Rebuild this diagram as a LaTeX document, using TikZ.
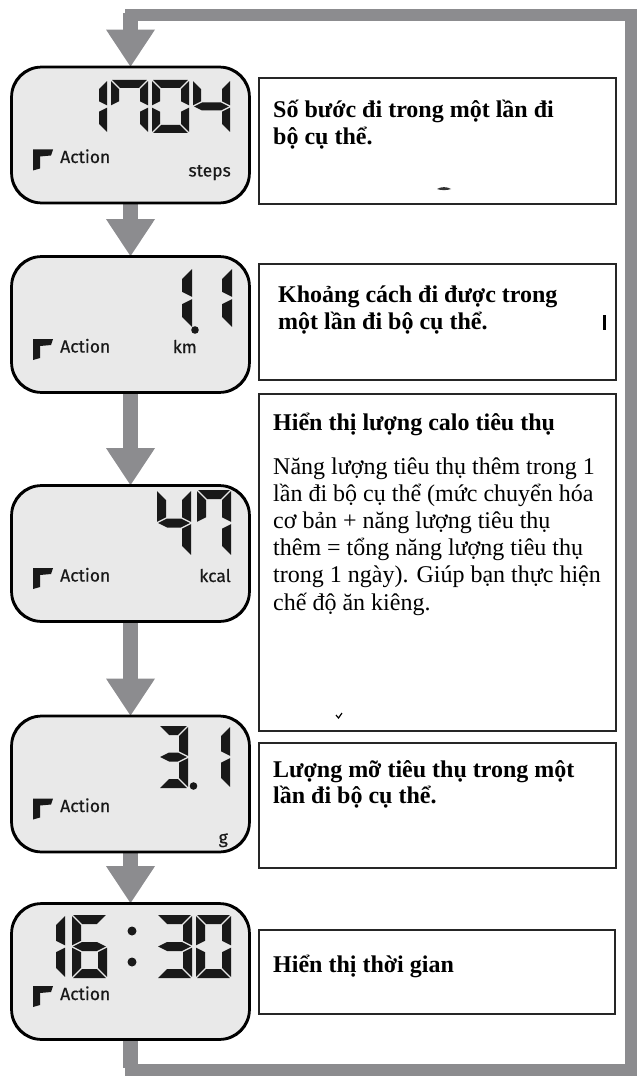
\documentclass[tikz,border=0pt]{standalone}
\usepackage{fontspec}
\setmainfont{Liberation Serif}
\newfontfamily\lcdfont[FakeBold=0.5]{Fira Sans}
\usetikzlibrary{calc}
\definecolor{arrowgray}{RGB}{140,140,143}
\definecolor{lcdfill}{RGB}{233,233,233}
\definecolor{segcol}{RGB}{25,25,25}
\newcommand\sgap{1.2}
\newcommand\segA{\fill[segcol] (\sgap,0) -- (\dW-\sgap,0) -- (\dW-\dT-\sgap,\dT) -- (\dT+\sgap,\dT) -- cycle;}
\newcommand\segD{\fill[segcol] (\sgap,\dH) -- (\dW-\sgap,\dH) -- (\dW-\dT-\sgap,\dH-\dT) -- (\dT+\sgap,\dH-\dT) -- cycle;}
\newcommand\segF{\fill[segcol] (0,\sgap) -- (\dT,\dT+\sgap) -- (\dT,\dH/2-\dT/2-\sgap) -- (0,\dH/2-\sgap) -- cycle;}
\newcommand\segE{\fill[segcol] (0,\dH/2+\sgap) -- (\dT,\dH/2+\dT/2+\sgap) -- (\dT,\dH-\dT-\sgap) -- (0,\dH-\sgap) -- cycle;}
\newcommand\segB{\fill[segcol] (\dW,\sgap) -- (\dW-\dT,\dT+\sgap) -- (\dW-\dT,\dH/2-\dT/2-\sgap) -- (\dW,\dH/2-\sgap) -- cycle;}
\newcommand\segC{\fill[segcol] (\dW,\dH/2+\sgap) -- (\dW-\dT,\dH/2+\dT/2+\sgap) -- (\dW-\dT,\dH-\dT-\sgap) -- (\dW,\dH-\sgap) -- cycle;}
\newcommand\segG{\fill[segcol] (\sgap,\dH/2) -- (\dT+\sgap,\dH/2-\dT/2) -- (\dW-\dT-\sgap,\dH/2-\dT/2) -- (\dW-\sgap,\dH/2) -- (\dW-\dT-\sgap,\dH/2+\dT/2) -- (\dT+\sgap,\dH/2+\dT/2) -- cycle;}
\newcommand\lcddigit[6]{\begin{scope}[shift={(#1,#2)}]\def\dW{#3}\def\dH{#4}\def\dT{#5}\foreach \s in {#6}{\csname seg\s\endcsname}\end{scope}}
\newcommand\actionicon[2]{\fill[segcol] (#1,#2) -- ++(20,0) -- ++(-2,6) -- ++(-11,1) -- ++(0,12) -- ++(-7,2) -- cycle;}
\begin{document}
\begin{tikzpicture}[x=1pt,y=-1pt,
  lcd/.style={draw=black, line width=1.8pt, fill=lcdfill, rounded corners=30pt,
              minimum width=237pt, minimum height=135pt, inner sep=0pt},
  tbox/.style={draw=black!85, line width=1.6pt, fill=white, inner sep=0pt, anchor=north west},
  txt/.style={inner sep=0pt, anchor=base west, font=\fontsize{24}{27}\selectfont},
  btxt/.style={txt, font=\fontsize{24}{27}\selectfont\bfseries},
  lcdlbl/.style={inner sep=0pt, font=\lcdfont\fontsize{17.5}{20}\selectfont, text=segcol},
  shaft/.style={draw=arrowgray, line width=15pt},
  loopbar/.style={draw=arrowgray, line width=12pt, line join=miter},
  headfill/.style={fill=arrowgray}]
\useasboundingbox (0,0) rectangle (637,1078);
\fill[white] (0,0) rectangle (637,1078);

% LCD displays
\node[lcd] (lcd1) at (130.5,135) {};
\node[lcd] (lcd2) at (130.5,324.5) {};
\node[lcd] (lcd3) at (130.5,553.5) {};
\node[lcd] (lcd4) at (130.5,784) {};
\node[lcd] (lcd5) at (130.5,971.5) {};

% loop back
\coordinate (lbl) at (130.5,1070);
\coordinate (lbr) at (631,1070);
\coordinate (ltr) at (631,15);
\coordinate (ltl) at (130.5,15);
\draw[loopbar] (lcd5.south) -- (lbl) -- (lbr) -- (ltr) -- (ltl) -- ($(lcd1.north)+(0,-36)$);
\draw[shaft] ($(ltl)+(0,-2)$) -- ($(lcd1.north)+(0,-36)$);
\draw[shaft] ($(lcd5.south)+(0,1)$) -- ($(lbl)+(0,-2)$);
\fill[headfill] ($(lcd1.north)+(-24.5,-37)$) -- ($(lcd1.north)+(24.5,-37)$) -- (lcd1.north) -- cycle;

% arrows between displays
\draw[shaft] (lcd1.south) -- ($(lcd2.north)+(0,-36)$);
\fill[headfill] ($(lcd2.north)+(-24.5,-37)$) -- ($(lcd2.north)+(24.5,-37)$) -- (lcd2.north) -- cycle;
\draw[shaft] (lcd2.south) -- ($(lcd3.north)+(0,-36)$);
\fill[headfill] ($(lcd3.north)+(-24.5,-37)$) -- ($(lcd3.north)+(24.5,-37)$) -- (lcd3.north) -- cycle;
\draw[shaft] (lcd3.south) -- ($(lcd4.north)+(0,-36)$);
\fill[headfill] ($(lcd4.north)+(-24.5,-37)$) -- ($(lcd4.north)+(24.5,-37)$) -- (lcd4.north) -- cycle;
\draw[shaft] (lcd4.south) -- ($(lcd5.north)+(0,-36)$);
\fill[headfill] ($(lcd5.north)+(-24.5,-37)$) -- ($(lcd5.north)+(24.5,-37)$) -- (lcd5.north) -- cycle;

% redraw LCD borders on top of arrow ends
\foreach \n in {lcd1,lcd2,lcd3,lcd4,lcd5}{
  \draw[black, line width=1.8pt, rounded corners=30pt] (\n.north west) rectangle (\n.south east);}

% LCD 1: 1704 steps
\lcddigit{70}{80}{37}{53}{8}{B,C}
\lcddigit{111}{80}{37}{53}{8}{A,B,C,F}
\lcddigit{152}{80}{37}{53}{8}{A,B,C,D,E,F}
\lcddigit{193}{80}{37}{53}{8}{B,C,F,G}
\actionicon{33}{149.5}
\node[lcdlbl, anchor=base west] (act1) at (60,163) {Action};
\node[lcdlbl, anchor=base east] (unit1) at (231,176.5) {steps};

% LCD 2: 1.1 km
\lcddigit{156}{268}{36}{60}{10}{B,C}
\fill[segcol] (195,330) circle[radius=3.8];
\lcddigit{196}{268}{36}{60}{10}{B,C}
\actionicon{33}{339}
\node[lcdlbl, anchor=base west] (act2) at (60,352.5) {Action};
\node[lcdlbl, anchor=base east] (unit2) at (197,353) {km};

% LCD 3: 47 kcal
\lcddigit{157}{490}{34}{66}{9}{B,C,F,G}
\lcddigit{197}{490}{34}{66}{9}{A,B,C,F}
\actionicon{33}{568}
\node[lcdlbl, anchor=base west] (act3) at (60,581.5) {Action};
\node[lcdlbl, anchor=base east] (unit3) at (231,582) {kcal};

% LCD 4: 3.1 g
\lcddigit{159}{726}{29}{62}{9}{A,B,C,D,G}
\fill[segcol] (193.5,786) circle[radius=3.8];
\lcddigit{201}{726}{29}{62}{9}{B,C}
\actionicon{33}{798.5}
\node[lcdlbl, anchor=base west] (act4) at (60,812) {Action};
\node[lcdlbl, anchor=base east] (unit4) at (228,843.5) {g};

% LCD 5: 16:30
\lcddigit{30}{915}{35}{63}{9}{B,C}
\lcddigit{72}{915}{35}{63}{9}{A,C,D,E,F,G}
\fill[segcol] (132,931) circle[radius=4.5];
\fill[segcol] (132,962) circle[radius=4.5];
\lcddigit{157}{915}{35}{63}{9}{A,B,C,D,G}
\lcddigit{196}{915}{35}{63}{9}{A,B,C,D,E,F}
\actionicon{33}{986}
\node[lcdlbl, anchor=base west] (act5) at (60,1000) {Action};

% text boxes
\node[tbox, minimum width=357pt, minimum height=126pt] (box1) at (258,77) {};
\node[btxt] (b1a) at (273,118) {Số bước đi trong một lần đi};
\node[btxt] (b1b) at (273,145) {bộ cụ thể.};
\fill[black!80] (437,189) .. controls (441,186.5) and (447,186.5) .. (451,189) .. controls (447,190.5) and (441,190.5) .. (437,189);

\node[tbox, minimum width=357pt, minimum height=116pt] (box2) at (258,263) {};
\node[btxt] (b2a) at (278,302) {Khoảng cách đi được trong};
\node[btxt] (b2b) at (278,329) {một lần đi bộ cụ thể.};
\fill[black] (603,315) rectangle (605.5,330);

\node[tbox, minimum width=357pt, minimum height=337pt] (box3) at (258,393) {};
\node[btxt] (b3t) at (273,430) {Hiển thị lượng calo tiêu thụ};
\node[txt] (b3a) at (273,474) {Năng lượng tiêu thụ thêm trong 1};
\node[txt] (b3b) at (273,501) {lần đi bộ cụ thể (mức chuyển hóa};
\node[txt] (b3c) at (273,528) {cơ bản + năng lượng tiêu thụ};
\node[txt] (b3d) at (273,555) {thêm = tổng năng lượng tiêu thụ};
\node[txt] (b3e) at (273,582) {trong 1 ngày). Giúp bạn thực hiện};
\node[txt] (b3f) at (273,610) {chế độ ăn kiêng.};
\draw[black, line width=1.2pt] (336,715) -- (338.5,718) -- (342,713);

\node[tbox, minimum width=357pt, minimum height=125pt] (box4) at (258,742) {};
\node[btxt] (b4a) at (273,777) {Lượng mỡ tiêu thụ trong một};
\node[btxt] (b4b) at (273,803) {lần đi bộ cụ thể.};

\node[tbox, minimum width=356pt, minimum height=84pt] (box5) at (258,929) {};
\node[btxt] (b5a) at (273,972) {Hiển thị thời gian};
\end{tikzpicture}
\end{document}
